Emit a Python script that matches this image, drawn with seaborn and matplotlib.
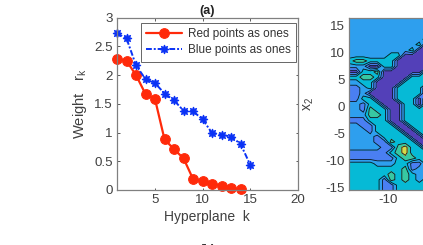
import numpy as np
import matplotlib
matplotlib.use("Agg")
import matplotlib.pyplot as plt
import seaborn as sns

# -- data ------------------------------------------------------
k_red = list(range(1, 15))
r_red = [2.28, 2.25, 2.0, 1.67, 1.58, 0.88, 0.71, 0.55, 0.19, 0.15, 0.11, 0.07, 0.035, 0.01]
k_blue = list(range(1, 16))
r_blue = [2.73, 2.64, 2.17, 1.93, 1.86, 1.68, 1.56, 1.38, 1.37, 1.23, 0.99, 0.96, 0.93, 0.8, 0.44]

left_xticks = [5, 10, 15, 20]
left_yticks = [0, 0.5, 1, 1.5, 2, 2.5, 3]
left_yticklabels = ["0", "0.5", "1", "1.5", "2", "2.5", "3"]
right_xticks = [-10]
right_yticks = [-15, -10, -5, 0, 5, 10, 15]

# region map of the right panel, one string per row from the top
x1_grid = [-15.5, -14.5, -13.5, -12.5, -11.5, -10.5, -9.5, -8.5, -7.5, -6.5, -5.5, -4.5]
x2_grid = [16.4, 15.4, 14.4, 13.4, 12.4, 11.4, 10.4, 9.4, 8.4, 7.4, 6.4, 5.4, 4.4, 3.4, 2.4,
           1.4, 0.4, -0.6, -1.6, -2.6, -3.6, -4.6, -5.6, -6.6, -7.6, -8.6, -9.6, -10.6,
           -11.6, -12.6, -13.6, -14.6, -15.5]
region_rows = [
    "333333333333",
    "333333333333",
    "333333333333",
    "333333333333",
    "333333333334",
    "333333333341",
    "333333333411",
    "333333441111",
    "455444411111",
    "333114411111",
    "114451111114",
    "445541111444",
    "334411114444",
    "223411144441",
    "223111144441",
    "224411144414",
    "332441114414",
    "332544114444",
    "333554114444",
    "222444114444",
    "332244411444",
    "333244441144",
    "333324444114",
    "333322544411",
    "333332256441",
    "222222456444",
    "222222245544",
    "444433344224",
    "444444445233",
    "444444545433",
    "444442545434",
    "444442244444",
    "444442244444",
]
region_colors = ["#5340B8", "#4A7FF2", "#2E9FEE", "#06BAD6", "#38C8A2", "#D8D848"]
region_levels = [0.5, 1.5, 2.5, 3.5, 4.5, 5.5, 6.5]

# -- style -----------------------------------------------------
sns.set_style("white")
plt.rcParams['font.family'] = ['Liberation Sans', 'DejaVu Sans']
plt.rcParams['mathtext.fontset'] = 'custom'
plt.rcParams['mathtext.rm'] = 'Liberation Sans'
plt.rcParams['mathtext.it'] = 'Liberation Sans'
plt.rcParams['mathtext.default'] = 'rm'
plt.rcParams['axes.unicode_minus'] = False

W, H = 423, 245
GREY = "#808080"
TEXT = "#404040"


def axes_box(x0, y0, x1, y1):
    # pixel box (y from the top) to figure fractions
    return [x0 / W, 1 - y1 / H, (x1 - x0) / W, (y1 - y0) / H]


fig = plt.figure(figsize=(W / 100, H / 100), dpi=100)

# -- left panel ------------------------------------------------
ax = fig.add_axes(axes_box(117, 17.7, 297.7, 190))
sns.lineplot(x=k_red, y=r_red, ax=ax, color="#FF2A0A", linewidth=1.6, marker="o",
             markersize=7.0, markeredgecolor="#FF2A0A", label="Red points as ones")
sns.lineplot(x=k_blue, y=r_blue, ax=ax, color="#0A32F5", linewidth=1.4,
             linestyle=(0, (3, 1, 1, 1)), marker=(8, 1, 0), markersize=6.4,
             markeredgecolor="#0A32F5", label="Blue points as ones")
ax.set_xlim(1, 20)
ax.set_ylim(0, 3)
ax.set_xticks(left_xticks)
ax.set_yticks(left_yticks)
ax.set_yticklabels(left_yticklabels)
for line in ax.get_lines():
    line.set_clip_on(False)
ax.set_xlabel("Hyperplane  k", fontsize=10, color=TEXT, labelpad=3)
ax.set_ylabel("Weight   r$_{k}$", fontsize=10.6, color=TEXT, labelpad=4)
ax.set_title("(a)", fontsize=9, fontweight="bold", color="#222222", pad=3)
leg = ax.legend(loc="upper left", bbox_to_anchor=((141 - 117) / 180.7, 1 - (23 - 17.7) / 172.3),
                borderaxespad=0, fontsize=8.5, fancybox=False, framealpha=1,
                edgecolor="#666666", handlelength=3.0, labelspacing=0.35,
                borderpad=0.45, handletextpad=0.5)
leg.get_frame().set_linewidth(0.7)
for text in leg.get_texts():
    text.set_color("#333333")

# -- right panel (runs off the edge of the picture) ------------
ax2 = fig.add_axes(axes_box(349.3, 17.7, 530, 190))
Z = np.array([[int(c) for c in row] for row in region_rows], dtype=float)
ax2.contourf(x1_grid, x2_grid, Z, levels=region_levels, colors=region_colors)
ax2.contour(x1_grid, x2_grid, Z, levels=region_levels[1:-1], colors="#101020", linewidths=0.6)
ax2.set_xlim(-15.5, 10.3)
ax2.set_ylim(-15.5, 16.4)
ax2.set_xticks(right_xticks)
ax2.set_yticks(right_yticks)
ax2.set_ylabel("x$_{2}$", fontsize=10, color=TEXT, labelpad=7)

for a in (ax, ax2):
    a.tick_params(direction="in", length=1.8, width=0.6, color="#404040",
                  labelsize=9.6, labelcolor=TEXT, pad=3,
                  top=True, right=True, bottom=True, left=True)
    for spine in a.spines.values():
        spine.set_color(GREY)
        spine.set_linewidth(0.9)

# caption of the next row, cut by the lower edge
fig.text(207.5 / W, 1 - 244 / H, "(b)", fontsize=9, fontweight="bold", color="#222222",
         ha="center", va="top")

fig.savefig("out.png", dpi=100)
